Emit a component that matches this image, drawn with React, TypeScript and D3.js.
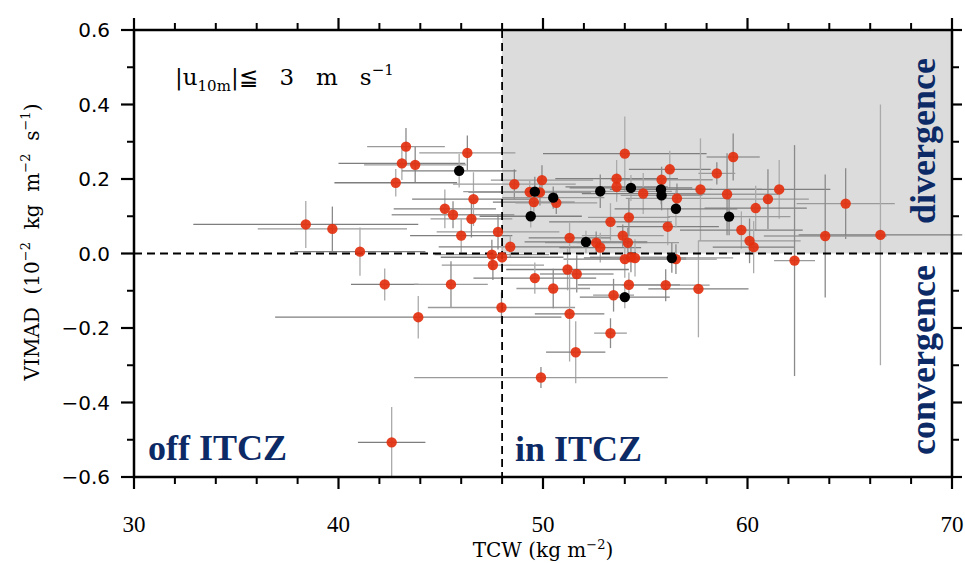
import React from "react";
import * as d3 from "d3";

// [TCW, VIMAD, TCW error, VIMAD error]
const redPoints: [number, number, number, number][] = [
  [38.4, 0.078, 5.5, 0.063], [39.7, 0.066, 3.65, 0.06], [41.05, 0.005, 3.2, 0.065],
  [43.3, 0.287, 1.9, 0.05], [43.1, 0.242, 3.1, 0.045], [43.75, 0.238, 2.5, 0.048],
  [42.8, 0.19, 3.0, 0.037], [46.3, 0.27, 2.35, 0.047], [45.2, 0.12, 2.5, 0.052],
  [45.6, 0.104, 3.0, 0.036], [46.6, 0.146, 3.0, 0.072], [46.5, 0.093, 2.0, 0.05],
  [46.0, 0.048, 2.5, 0.045], [47.8, 0.058, 3.0, 0.047], [48.4, 0.018, 3.5, 0.03],
  [47.5, -0.003, 2.8, 0.04], [48.0, -0.01, 3.0, 0.03], [47.55, -0.031, 2.5, 0.04],
  [42.26, -0.083, 1.65, 0.043], [45.5, -0.083, 1.8, 0.062], [43.9, -0.171, 7.0, 0.057],
  [47.97, -0.145, 3.6, 0.04], [42.6, -0.507, 1.65, 0.095],
  [48.6, 0.186, 3.0, 0.04], [49.55, 0.138, 2.0, 0.04], [49.95, 0.197, 2.5, 0.04],
  [49.35, 0.165, 3.0, 0.03], [49.85, 0.164, 2.0, 0.035], [54.0, 0.268, 4.0, 0.1],
  [59.3, 0.259, 1.3, 0.063], [56.2, 0.226, 2.0, 0.05], [58.5, 0.215, 0.9, 0.03],
  [53.6, 0.201, 3.0, 0.05], [55.8, 0.198, 2.5, 0.035], [53.6, 0.179, 2.5, 0.04],
  [50.65, 0.136, 2.0, 0.03], [54.9, 0.161, 3.0, 0.055], [56.55, 0.148, 2.5, 0.04],
  [57.7, 0.172, 3.0, 0.137], [59.0, 0.159, 2.5, 0.11], [61.55, 0.172, 2.5, 0.079],
  [61.0, 0.146, 2.0, 0.08], [60.4, 0.122, 2.5, 0.06], [64.8, 0.134, 2.4, 0.095],
  [59.7, 0.063, 3.0, 0.05], [63.8, 0.047, 3.0, 0.165], [66.5, 0.05, 4.0, 0.35],
  [60.1, 0.034, 2.5, 0.06], [60.3, 0.017, 2.0, 0.07], [62.3, -0.019, 1.0, 0.31],
  [56.1, 0.072, 2.5, 0.05], [54.2, 0.097, 2.0, 0.05], [53.3, 0.085, 3.0, 0.05],
  [53.9, 0.048, 2.0, 0.03], [51.3, 0.042, 2.0, 0.04], [52.6, 0.029, 2.5, 0.03],
  [52.8, 0.016, 2.0, 0.04], [54.15, 0.029, 2.5, 0.04], [54.0, -0.015, 3.0, 0.05],
  [54.3, -0.01, 2.0, 0.04], [54.5, -0.012, 2.5, 0.05], [56.5, -0.015, 2.0, 0.04],
  [51.2, -0.043, 3.0, 0.056], [51.65, -0.055, 1.8, 0.05], [49.6, -0.066, 3.0, 0.042],
  [50.5, -0.094, 1.8, 0.053], [54.2, -0.084, 2.5, 0.033], [56.0, -0.085, 2.15, 0.043],
  [57.6, -0.095, 2.45, 0.13], [53.45, -0.112, 1.0, 0.044], [51.3, -0.162, 1.7, 0.128],
  [53.3, -0.214, 0.8, 0.04], [51.6, -0.265, 1.45, 0.083], [49.9, -0.333, 6.2, 0.028],
];

const blackPoints: [number, number, number, number][] = [
  [45.9, 0.222, 2.8, 0.045], [49.6, 0.166, 3.5, 0.04], [49.4, 0.1, 2.5, 0.03],
  [52.8, 0.167, 3.5, 0.045], [54.3, 0.176, 3.0, 0.035], [50.5, 0.15, 2.5, 0.03],
  [55.77, 0.172, 2.5, 0.04], [55.8, 0.156, 2.0, 0.04], [56.5, 0.12, 3.0, 0.05],
  [59.1, 0.099, 3.0, 0.05], [52.1, 0.031, 3.0, 0.03], [56.3, -0.012, 3.0, 0.04],
  [54.0, -0.117, 2.2, 0.03],
];

const xMajorTicks = [30, 40, 50, 60, 70];
const xMinorTicks = [32, 34, 36, 38, 42, 44, 46, 48, 52, 54, 56, 58, 62, 64, 66, 68];
const yMajorTicks = [-0.6, -0.4, -0.2, 0.0, 0.2, 0.4, 0.6];
const yMinorTicks = [-0.5, -0.3, -0.1, 0.1, 0.3, 0.5];

const ITCZ_TCW = 48;

const L = 134, R = 952, T = 30, B = 477;
const navy = "#0c2a66";

export default function App() {
  const x = d3.scaleLinear().domain([30, 70]).range([L, R]);
  const y = d3.scaleLinear().domain([-0.6, 0.6]).range([B, T]);
  const all = [...redPoints, ...blackPoints];
  const fmtY = (v: number) => (v < 0 ? "\u2212" : "") + Math.abs(v).toFixed(1);
  return (
    <svg width={965} height={563} style={{ position: "absolute", left: 0, top: 0, background: "#fff" }}>
      <rect x={0} y={0} width={965} height={563} fill="#fff" />
      {/* shaded divergence/in ITCZ region */}
      <rect x={x(ITCZ_TCW)} y={y(0.6)} width={x(70) - x(ITCZ_TCW)} height={y(0) - y(0.6)} fill="#dcdcdc" />
      {/* error bars */}
      {all.map((p, i) => (
        <g key={"e" + i}>
          <line x1={x(p[0] - p[2])} x2={x(p[0] + p[2])} y1={y(p[1])} y2={y(p[1])}
            stroke={i % 2 ? "#9a9a9a" : "#7e7e7e"} strokeWidth={1.3} />
          <line x1={x(p[0])} x2={x(p[0])} y1={y(p[1] - p[3])} y2={y(p[1] + p[3])}
            stroke={i % 2 ? "#8a8a8a" : "#aaaaaa"} strokeWidth={1.3} />
        </g>
      ))}
      {/* dashed reference lines */}
      <line x1={L} x2={R} y1={y(0)} y2={y(0)} stroke="#000" strokeWidth={1.8} strokeDasharray="8,5" />
      <line x1={x(ITCZ_TCW)} x2={x(ITCZ_TCW)} y1={T} y2={B} stroke="#000" strokeWidth={1.8} strokeDasharray="8,5" />
      {/* points */}
      {redPoints.map((p, i) => (
        <circle key={"r" + i} cx={x(p[0])} cy={y(p[1])} r={5.2} fill="#e3300e" fillOpacity={0.92} />
      ))}
      {blackPoints.map((p, i) => (
        <circle key={"b" + i} cx={x(p[0])} cy={y(p[1])} r={5.2} fill="#000" />
      ))}
      {/* frame */}
      <rect x={L} y={T} width={R - L} height={B - T} fill="none" stroke="#000" strokeWidth={2.5} />
      {/* x ticks */}
      {xMajorTicks.map((t) => (
        <g key={"xm" + t}>
          <line x1={x(t)} x2={x(t)} y1={B} y2={B + 12} stroke="#000" strokeWidth={2.2} />
          <line x1={x(t)} x2={x(t)} y1={T} y2={T - 12} stroke="#000" strokeWidth={2.2} />
          <text x={x(t)} y={532} textAnchor="middle" fontFamily="Liberation Serif" fontSize={23}>{t}</text>
        </g>
      ))}
      {xMinorTicks.map((t) => (
        <g key={"xn" + t}>
          <line x1={x(t)} x2={x(t)} y1={B} y2={B + 7} stroke="#000" strokeWidth={2} />
          <line x1={x(t)} x2={x(t)} y1={T} y2={T - 7} stroke="#000" strokeWidth={2} />
        </g>
      ))}
      {/* y ticks */}
      {yMajorTicks.map((t) => (
        <g key={"ym" + t}>
          <line x1={L} x2={L - 13} y1={y(t)} y2={y(t)} stroke="#000" strokeWidth={2.2} />
          <line x1={R} x2={R + 10} y1={y(t)} y2={y(t)} stroke="#000" strokeWidth={2.2} />
          <text x={110} y={y(t) + 7} textAnchor="end" fontFamily="DejaVu Sans" fontSize={20}>{fmtY(t)}</text>
        </g>
      ))}
      {yMinorTicks.map((t) => (
        <g key={"yn" + t}>
          <line x1={L} x2={L - 7} y1={y(t)} y2={y(t)} stroke="#000" strokeWidth={2} />
          <line x1={R} x2={R + 7} y1={y(t)} y2={y(t)} stroke="#000" strokeWidth={2} />
        </g>
      ))}
      {/* axis titles */}
      <text x={543} y={557} textAnchor="middle" fontFamily="DejaVu Serif" fontSize={20}>
        TCW (kg m<tspan dy={-8} fontSize={13}>−2</tspan><tspan dy={8}>)</tspan>
      </text>
      <text transform="translate(39,242) rotate(-90)" textAnchor="middle" fontFamily="DejaVu Serif" fontSize={20} style={{ whiteSpace: "pre" }}>
        VIMAD  (10<tspan dy={-9} fontSize={13}>−2</tspan><tspan dy={9}>  kg  m</tspan>
        <tspan dy={-9} fontSize={13}>−2</tspan><tspan dy={9}>  s</tspan>
        <tspan dy={-9} fontSize={13}>−1</tspan><tspan dy={9}>)</tspan>
      </text>
      {/* annotation */}
      <text x={175} y={85} fontFamily="DejaVu Serif" fontSize={23} style={{ whiteSpace: "pre" }}>
        |u<tspan dy={6} fontSize={15}>10m</tspan><tspan dy={-6}>|≦   3   m   s</tspan>
        <tspan dy={-10} fontSize={15}>−1</tspan>
      </text>
      {/* region labels */}
      <text x={148} y={460} fontFamily="Liberation Serif" fontWeight="bold" fontSize={36} fill={navy}>off ITCZ</text>
      <text x={515} y={461} fontFamily="Liberation Serif" fontWeight="bold" fontSize={36} fill={navy}>in ITCZ</text>
      <text transform="translate(935,141) rotate(-90)" textAnchor="middle" fontFamily="Liberation Serif" fontWeight="bold" fontSize={36} fill={navy}>divergence</text>
      <text transform="translate(935,360) rotate(-90)" textAnchor="middle" fontFamily="Liberation Serif" fontWeight="bold" fontSize={36} fill={navy}>convergence</text>
    </svg>
  );
}
